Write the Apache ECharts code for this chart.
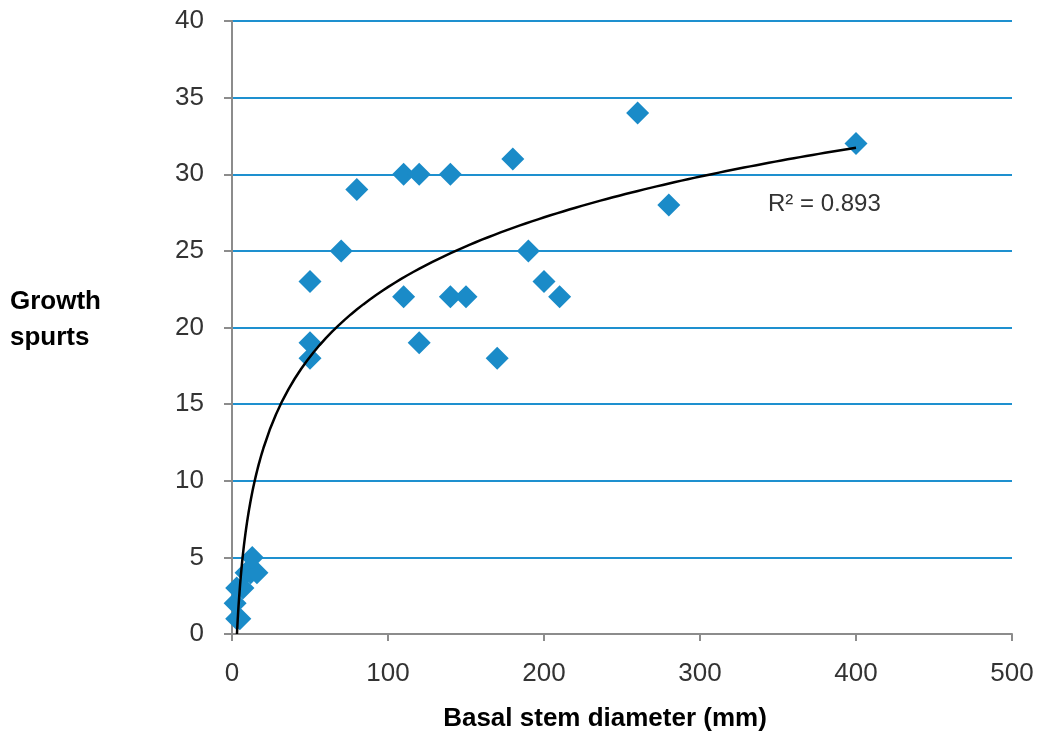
<!DOCTYPE html>
<html>
<head>
<meta charset="utf-8">
<script src="https://cdn.jsdelivr.net/npm/echarts@6/dist/echarts.min.js"></script>
<style>
  html, body { margin: 0; padding: 0; background: #fff; }
  #growthChart { width: 1038px; height: 732px; }
</style>
</head>
<body>
<div id="growthChart"></div>
<script>
// basal stem diameter (mm) / growth spurts
const diameters = [400, 260, 280, 180, 110, 120, 140, 80, 70, 190, 50, 200, 110, 140, 150, 210, 50, 50, 120, 170,
  3, 5, 2, 3, 7, 9, 12, 16, 13]
const spurts = [32, 34, 28, 31, 30, 30, 30, 29, 25, 25, 23, 23, 22, 22, 22, 22, 19, 18, 19, 18,
  1, 1, 2, 3, 3, 4, 4, 4, 5]
const xTicks = [0, 100, 200, 300, 400, 500]
const yTicks = [0, 5, 10, 15, 20, 25, 30, 35, 40]
const rSquared = '0.893'

const points = diameters.map((d, i) => [d, spurts[i]])

// logarithmic trend line (least squares of y on ln x)
const n = points.length
let sx = 0, sy = 0, sxx = 0, sxy = 0
points.forEach(([x, y]) => {
  const lx = Math.log(x)
  sx += lx; sy += y; sxx += lx * lx; sxy += lx * y
})
const slope = (n * sxy - sx * sy) / (n * sxx - sx * sx)
const intercept = (sy - slope * sx) / n
const trend = []
const x0 = Math.exp(-intercept / slope)
for (let x = x0; x <= 400; x += (x < 20 ? 0.5 : 4)) {
  trend.push([x, slope * Math.log(x) + intercept])
}
trend.push([400, slope * Math.log(400) + intercept])

const chart = echarts.init(document.getElementById('growthChart'))
const font = 'Liberation Sans'
chart.setOption({
  animation: false,
  textStyle: { fontFamily: font },
  grid: { left: 232, right: 26, top: 21, bottom: 98, outerBoundsMode: 'none' },
  xAxis: {
    type: 'value',
    min: xTicks[0],
    max: xTicks[xTicks.length - 1],
    interval: 100,
    name: 'Basal stem diameter (mm)',
    nameLocation: 'middle',
    nameGap: 72,
    nameTextStyle: { fontSize: 26, fontWeight: 'bold', color: '#000', fontFamily: font, padding: [0, 34, 0, 0] },
    axisLine: { lineStyle: { color: '#8c8c8c', width: 2 } },
    axisTick: { show: true, length: 7, lineStyle: { color: '#8c8c8c', width: 2 } },
    axisLabel: { fontSize: 26, color: '#333', margin: 27, fontFamily: font },
    splitLine: { show: false }
  },
  yAxis: {
    type: 'value',
    min: yTicks[0],
    max: yTicks[yTicks.length - 1],
    interval: 5,
    axisLine: { show: true, lineStyle: { color: '#8c8c8c', width: 2 } },
    axisTick: { show: true, length: 8, lineStyle: { color: '#8c8c8c', width: 2 } },
    axisLabel: { fontSize: 26, color: '#333', margin: 28, fontFamily: font },
    splitLine: { lineStyle: { color: '#1e90cf', width: 2 } }
  },
  graphic: [
    {
      type: 'text', left: 10, top: 284,
      style: { text: 'Growth\nspurts', font: 'bold 26px "Liberation Sans"', fill: '#000', lineHeight: 36 }
    },
    {
      type: 'text', left: 768, top: 192,
      style: { text: 'R² = ' + rSquared, font: '24px "Liberation Sans"', fill: '#333' }
    }
  ],
  series: [
    {
      type: 'scatter',
      data: points,
      symbol: 'diamond',
      symbolSize: 23,
      itemStyle: { color: '#1a8bc8', opacity: 1 },
      z: 3
    },
    {
      type: 'line',
      data: trend,
      showSymbol: false,
      smooth: false,
      lineStyle: { color: '#000', width: 2.5 },
      z: 4
    }
  ]
})
</script>
</body>
</html>
